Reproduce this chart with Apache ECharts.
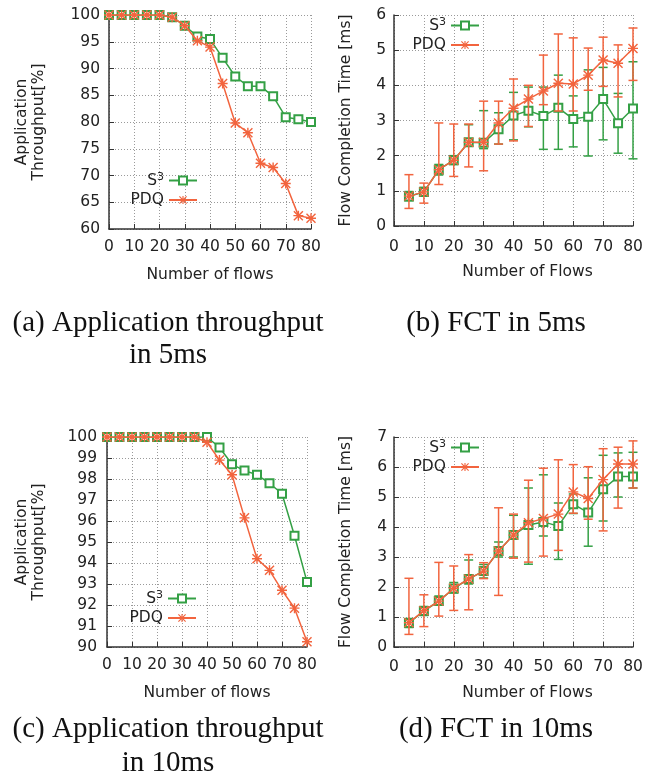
<!DOCTYPE html>
<html>
<head>
<meta charset="utf-8">
<script src="https://cdn.jsdelivr.net/npm/echarts@6/dist/echarts.min.js"></script>
<style>
  body { margin: 0; background: #fff; }
  #main { width: 658px; height: 782px; }
</style>
</head>
<body>
<div id="main"></div>
<script>
// flows on x axis
const flowsA = [0, 5, 10, 15, 20, 25, 30, 35, 40, 45, 50, 55, 60, 65, 70, 75, 80];
const flowsB = [5, 10, 15, 20, 25, 30, 35, 40, 45, 50, 55, 60, 65, 70, 75, 80];

// (a) throughput 5ms
const thr5S3 = [100, 100, 100, 100, 100, 99.6, 98, 96, 95.5, 92, 88.5, 86.7, 86.7, 84.8, 80.9, 80.5, 80];
const thr5Pdq = [100, 100, 100, 100, 100, 99.6, 98, 95.2, 94, 87.2, 79.8, 78, 72.3, 71.5, 68.5, 62.5, 62];

// (b) FCT 5ms, mean + low/high of error bar
const fct5S3 = [0.84, 0.97, 1.6, 1.87, 2.38, 2.37, 2.75, 3.14, 3.28, 3.13, 3.36, 3.04, 3.11, 3.61, 2.92, 3.34];
const fct5S3Lo = [0.72, 0.85, 1.45, 1.75, 2.28, 2.2, 2.33, 2.45, 2.82, 2.18, 2.18, 2.25, 1.99, 2.45, 2.07, 1.91];
const fct5S3Hi = [0.98, 1.1, 1.75, 2.0, 2.88, 3.28, 3.22, 3.8, 3.95, 3.95, 4.29, 3.7, 4.44, 4.51, 3.77, 4.67];
const fct5Pdq = [0.85, 0.97, 1.6, 1.87, 2.38, 2.38, 2.93, 3.35, 3.61, 3.84, 4.06, 4.04, 4.29, 4.72, 4.63, 5.05];
const fct5PdqLo = [0.5, 0.65, 1.18, 1.41, 1.68, 1.57, 2.33, 2.42, 2.83, 3.45, 3.27, 3.27, 3.86, 3.97, 3.67, 4.14];
const fct5PdqHi = [1.46, 1.22, 2.93, 2.9, 2.9, 3.55, 3.55, 4.18, 4.0, 4.86, 5.46, 5.35, 5.06, 5.37, 5.15, 5.63];

// (c) throughput 10ms
const thr10S3 = [100, 100, 100, 100, 100, 100, 100, 100, 100, 99.5, 98.7, 98.4, 98.2, 97.8, 97.3, 95.3, 93.1];
const thr10Pdq = [100, 100, 100, 100, 100, 100, 100, 100, 99.75, 98.9, 98.2, 96.15, 94.2, 93.65, 92.7, 91.85, 90.25];

// (d) FCT 10ms
const fct10S3 = [0.8, 1.2, 1.53, 1.95, 2.27, 2.53, 3.2, 3.73, 4.07, 4.17, 4.03, 4.76, 4.48, 5.26, 5.68, 5.68];
const fct10S3Lo = [0.65, 1.05, 1.4, 1.8, 2.1, 2.3, 3.0, 3.0, 2.76, 3.7, 2.92, 4.45, 3.36, 4.2, 5.0, 5.3];
const fct10S3Hi = [0.95, 1.35, 1.7, 2.15, 2.9, 2.75, 3.5, 4.39, 5.3, 5.74, 4.8, 5.1, 5.64, 6.39, 6.47, 6.49];
const fct10Pdq = [0.81, 1.21, 1.53, 1.96, 2.27, 2.53, 3.2, 3.73, 4.14, 4.28, 4.43, 5.17, 4.95, 5.58, 6.1, 6.1];
const fct10PdqLo = [0.42, 0.68, 1.03, 1.22, 1.24, 2.28, 1.72, 2.96, 2.83, 3.03, 3.22, 4.46, 4.26, 3.87, 4.63, 5.3];
const fct10PdqHi = [2.29, 1.74, 2.82, 2.7, 3.08, 2.81, 4.64, 4.43, 5.56, 5.96, 6.24, 6.08, 6.01, 6.61, 6.66, 6.87];

const GREEN = '#34a045';
const ORANGE = '#f2643e';
const FONT = 'DejaVu Sans';
const STAR = 'path://M0 8.6L20 8.6L20 11.4L0 11.4Z M8.6 0L11.4 0L11.4 20L8.6 20Z M0 2L2 0L20 18L18 20Z M18 0L20 2L2 20L0 18Z';

const chart = echarts.init(document.getElementById('main'));

function pairs(xs, ys) {
  return xs.map((x, i) => [x, ys[i]]);
}

function lineSeries(name, idx, xs, ys, color, symbol, size) {
  return {
    name: name, type: 'line', xAxisIndex: idx, yAxisIndex: idx,
    data: pairs(xs, ys),
    symbol: symbol, symbolSize: size,
    lineStyle: { color: color, width: 1.5 },
    itemStyle: { color: color, borderWidth: symbol === 'emptyRect' ? 1.4 : 0 },
    z: name === 'PDQ' ? 4 : 2
  };
}

function errRender(params, api) {
  const top = api.coord([api.value(0), api.value(2)]);
  const bot = api.coord([api.value(0), api.value(1)]);
  const w = 4.5;
  const style = { stroke: api.visual('color'), lineWidth: 1.5 };
  return {
    type: 'group',
    children: [
      { type: 'line', shape: { x1: top[0], y1: top[1], x2: bot[0], y2: bot[1] }, style: style },
      { type: 'line', shape: { x1: top[0] - w, y1: top[1], x2: top[0] + w, y2: top[1] }, style: style },
      { type: 'line', shape: { x1: bot[0] - w, y1: bot[1], x2: bot[0] + w, y2: bot[1] }, style: style }
    ]
  };
}

function errSeries(name, idx, xs, lo, hi, color) {
  return {
    name: name + ' err', type: 'custom', xAxisIndex: idx, yAxisIndex: idx,
    renderItem: errRender,
    itemStyle: { color: color },
    encode: { x: 0, y: [1, 2] },
    data: xs.map((x, i) => [x, lo[i], hi[i]]),
    z: name === 'PDQ' ? 3 : 1
  };
}

const gridLine = { show: true, lineStyle: { color: '#9a9a9a', type: [1, 2], width: 1 } };
const axisLine = { show: true, onZero: false, lineStyle: { color: '#333', width: 1.5 } };
const tick = { show: true, inside: true, length: 5, lineStyle: { color: '#333' } };
const label = { color: '#222', fontFamily: FONT, fontSize: 15.5 };
const nameStyle = { color: '#222', fontFamily: FONT, fontSize: 15.5, lineHeight: 17 };

function xAx(idx, name, margin, pad) {
  return {
    type: 'value', gridIndex: idx, min: 0, max: 80, interval: 10,
    name: name, nameLocation: 'middle', nameGap: 37,
    nameTextStyle: Object.assign({ padding: pad }, nameStyle),
    axisLine: axisLine, axisTick: tick, splitLine: gridLine,
    axisLabel: Object.assign({ margin: margin }, label)
  };
}

function yAx(idx, name, min, max, interval, gap, margin) {
  return {
    type: 'value', gridIndex: idx, min: min, max: max, interval: interval,
    name: name, nameLocation: 'middle', nameGap: gap, nameTextStyle: nameStyle,
    axisLine: axisLine, axisTick: tick, splitLine: gridLine,
    axisLabel: Object.assign({ margin: margin }, label)
  };
}

function legend(idx, right, top) {
  return {
    data: ['S3', 'PDQ'], orient: 'vertical', align: 'right',
    right: right, top: top, padding: 0, itemGap: 2,
    itemWidth: 28, itemHeight: 10,
    formatter: name => name === 'S3' ? '{b|S}{sup|3}' : '{b|' + name + '}',
    textStyle: {
      color: '#222', fontFamily: FONT, fontSize: 15.5,
      rich: {
        b: { fontFamily: FONT, fontSize: 15.5, color: '#222', lineHeight: 17 },
        sup: { fontFamily: FONT, fontSize: 11, color: '#222', lineHeight: 17, verticalAlign: 'top', padding: [0, 0, 7, 0] }
      }
    }
  };
}

function caption(text, x, top, lh) {
  return {
    text: text, left: x, top: top, textAlign: 'center', padding: 0,
    textStyle: { fontFamily: 'Liberation Serif', fontSize: 29, fontWeight: 'normal', color: '#111', lineHeight: lh }
  };
}

const option = {
  animation: false,
  backgroundColor: '#fff',
  title: [
    caption('(a) Application throughput\nin 5ms', 168, 307, 32),
    caption('(b) FCT in 5ms', 496, 307, 32),
    caption('(c) Application throughput\nin 10ms', 168, 712, 34),
    caption('(d) FCT in 10ms', 496, 712, 34)
  ],
  legend: [
    legend(0, 460, 172),
    legend(1, 178, 17),
    legend(2, 461, 590),
    legend(3, 178, 439)
  ],
  grid: [
    { left: 109, top: 15, width: 202, height: 214 },
    { left: 394, top: 15, width: 239, height: 211 },
    { left: 107, top: 437, width: 200, height: 210 },
    { left: 394, top: 437, width: 239, height: 210 }
  ],
  xAxis: [
    xAx(0, 'Number of flows', 10, [0, 0, 0, 0]),
    xAx(1, 'Number of Flows', 13, [0, 0, 0, 28]),
    xAx(2, 'Number of flows', 10, [0, 0, 0, 0]),
    xAx(3, 'Number of Flows', 12, [0, 0, 0, 28])
  ],
  yAxis: [
    yAx(0, 'Application\nThroughput[%]', 60, 100, 5, 62, 9),
    yAx(1, 'Flow Completion Time [ms]', 0, 6, 1, 40, 8),
    yAx(2, 'Application\nThroughput[%]', 90, 100, 1, 60, 10),
    yAx(3, 'Flow Completion Time [ms]', 0, 7, 1, 40, 7)
  ],
  series: [
    lineSeries('S3', 0, flowsA, thr5S3, GREEN, 'emptyRect', 8),
    lineSeries('PDQ', 0, flowsA, thr5Pdq, ORANGE, STAR, 10),

    errSeries('S3', 1, flowsB, fct5S3Lo, fct5S3Hi, GREEN),
    lineSeries('S3', 1, flowsB, fct5S3, GREEN, 'emptyRect', 8),
    errSeries('PDQ', 1, flowsB, fct5PdqLo, fct5PdqHi, ORANGE),
    lineSeries('PDQ', 1, flowsB, fct5Pdq, ORANGE, STAR, 10),

    lineSeries('S3', 2, flowsA, thr10S3, GREEN, 'emptyRect', 8),
    lineSeries('PDQ', 2, flowsA, thr10Pdq, ORANGE, STAR, 10),

    errSeries('S3', 3, flowsB, fct10S3Lo, fct10S3Hi, GREEN),
    lineSeries('S3', 3, flowsB, fct10S3, GREEN, 'emptyRect', 8),
    errSeries('PDQ', 3, flowsB, fct10PdqLo, fct10PdqHi, ORANGE),
    lineSeries('PDQ', 3, flowsB, fct10Pdq, ORANGE, STAR, 10)
  ]
};

chart.setOption(option);
</script>
</body>
</html>
